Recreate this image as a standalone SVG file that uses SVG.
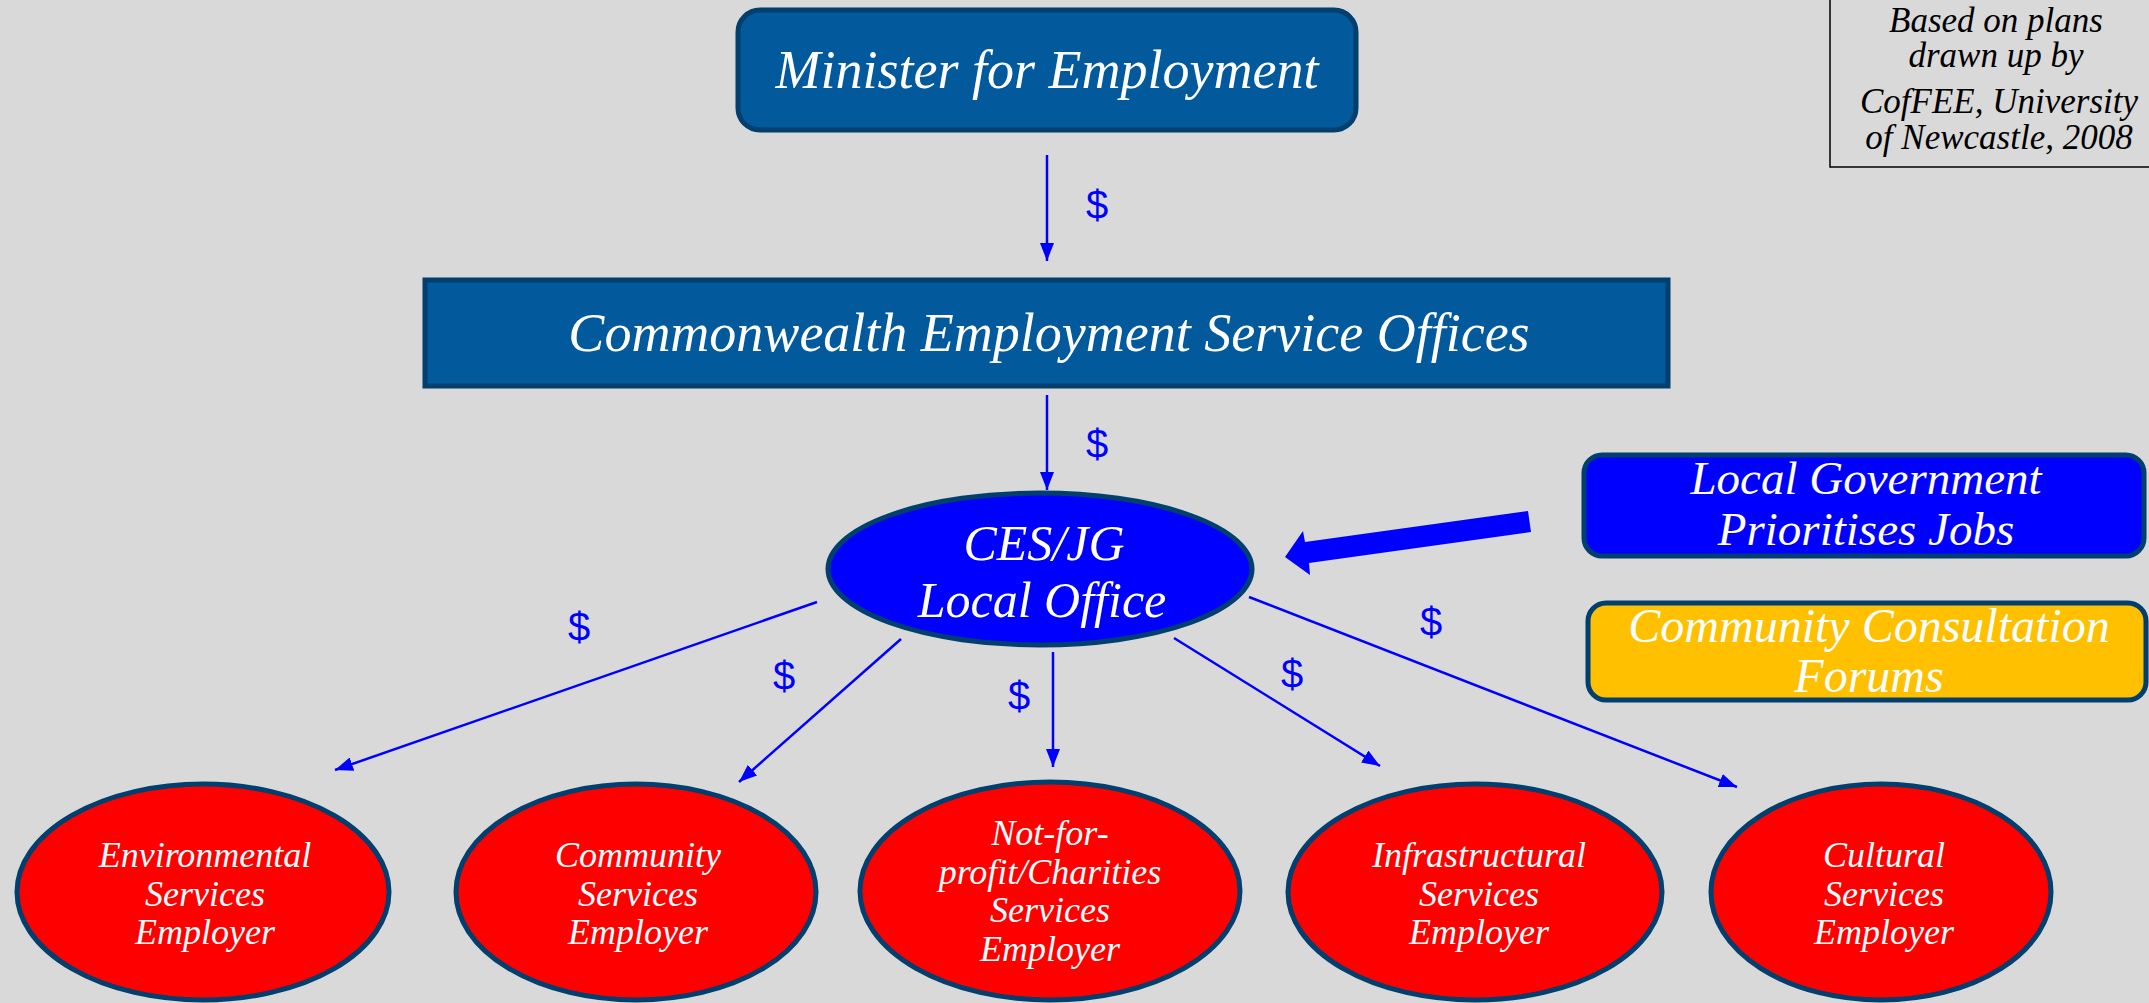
<svg xmlns="http://www.w3.org/2000/svg" width="2149" height="1003" viewBox="0 0 2149 1003">
<style>
.lbl{font-family:"Liberation Serif","Times New Roman",serif;font-style:italic;fill:#FFFFFF;text-anchor:middle}
.note{font-family:"Liberation Serif","Times New Roman",serif;font-style:italic;fill:#000000;text-anchor:middle;font-size:35px}
.box{fill:#02599C;stroke:#003F6E;stroke-width:5}
.emp{fill:#FF0000;stroke:#003F6E;stroke-width:5}
.conn{stroke:#0000FF;stroke-width:2.5;fill:none}
.dol{font-family:"Liberation Sans",Arial,sans-serif;fill:#0000FF;font-size:40px;text-anchor:middle}
</style>
<defs>
<marker id="ah" markerUnits="userSpaceOnUse" markerWidth="18" markerHeight="14" refX="18" refY="7" orient="auto">
<path d="M0,0 L18,7 L0,14 z" fill="#0000FF"/>
</marker>
</defs>
<rect x="0" y="0" width="2149" height="1003" fill="#D9D9D9"/>

<g id="note">
<rect x="1830" y="-5" width="330" height="172" fill="none" stroke="#000000" stroke-width="1.5"/>
<text class="note" x="1996" y="32">Based on plans</text>
<text class="note" x="1996" y="67">drawn up by</text>
<text class="note" x="1999" y="113">CofFEE, University</text>
<text class="note" x="1999" y="149">of Newcastle, 2008</text>
</g>

<g id="minister">
<rect class="box" x="738" y="10" width="618" height="120" rx="22" ry="22"/>
<text class="lbl" x="1047" y="88" font-size="54">Minister for Employment</text>
</g>

<g id="ces-offices">
<rect class="box" x="425" y="280" width="1243" height="106"/>
<text class="lbl" x="1049" y="351" font-size="54">Commonwealth Employment Service Offices</text>
</g>

<g id="ces-jg">
<ellipse cx="1040" cy="569" rx="212" ry="76" fill="#0000FF" stroke="#003F6E" stroke-width="5"/>
<text class="lbl" x="1044" y="560" font-size="50">CES/JG</text>
<text class="lbl" x="1042" y="617" font-size="50">Local Office</text>
</g>

<g id="local-gov">
<rect x="1584" y="455" width="560" height="101" rx="18" ry="18" fill="#0000FF" stroke="#003F6E" stroke-width="5"/>
<text class="lbl" x="1866" y="494" font-size="47">Local Government</text>
<text class="lbl" x="1866" y="545" font-size="47">Prioritises Jobs</text>
</g>

<g id="community-forums">
<rect x="1588" y="603" width="558" height="97" rx="18" ry="18" fill="#FFC000" stroke="#003F6E" stroke-width="5"/>
<text class="lbl" x="1869" y="642" font-size="48">Community Consultation</text>
<text class="lbl" x="1869" y="692" font-size="48">Forums</text>
</g>

<g id="environmental">
<ellipse class="emp" cx="203" cy="892" rx="186" ry="108"/>
<text class="lbl" x="205" y="867" font-size="36">Environmental</text>
<text class="lbl" x="205" y="906" font-size="36">Services</text>
<text class="lbl" x="205" y="944" font-size="36">Employer</text>
</g>

<g id="community">
<ellipse class="emp" cx="636" cy="892" rx="180" ry="108"/>
<text class="lbl" x="638" y="867" font-size="36">Community</text>
<text class="lbl" x="638" y="906" font-size="36">Services</text>
<text class="lbl" x="638" y="944" font-size="36">Employer</text>
</g>

<g id="nfp">
<ellipse class="emp" cx="1050" cy="891" rx="190" ry="109"/>
<text class="lbl" x="1050" y="845" font-size="36">Not-for-</text>
<text class="lbl" x="1050" y="884" font-size="36">profit/Charities</text>
<text class="lbl" x="1050" y="922" font-size="36">Services</text>
<text class="lbl" x="1050" y="961" font-size="36">Employer</text>
</g>

<g id="infrastructural">
<ellipse class="emp" cx="1475" cy="892" rx="187" ry="108"/>
<text class="lbl" x="1479" y="867" font-size="36">Infrastructural</text>
<text class="lbl" x="1479" y="906" font-size="36">Services</text>
<text class="lbl" x="1479" y="944" font-size="36">Employer</text>
</g>

<g id="cultural">
<ellipse class="emp" cx="1881" cy="892" rx="170" ry="108"/>
<text class="lbl" x="1884" y="867" font-size="36">Cultural</text>
<text class="lbl" x="1884" y="906" font-size="36">Services</text>
<text class="lbl" x="1884" y="944" font-size="36">Employer</text>
</g>

<g id="connectors">
<line class="conn" x1="1047" y1="155" x2="1047" y2="261" marker-end="url(#ah)"/>
<line class="conn" x1="1047" y1="395" x2="1047" y2="490" marker-end="url(#ah)"/>
<line class="conn" x1="817" y1="602" x2="335" y2="770" marker-end="url(#ah)"/>
<line class="conn" x1="901" y1="639" x2="739" y2="782" marker-end="url(#ah)"/>
<line class="conn" x1="1053" y1="652" x2="1053" y2="767" marker-end="url(#ah)"/>
<line class="conn" x1="1174" y1="638" x2="1380" y2="766" marker-end="url(#ah)"/>
<line class="conn" x1="1249" y1="597" x2="1737" y2="787" marker-end="url(#ah)"/>
<polygon points="1528,511 1531,532 1309,563 1310,575 1285,557 1303,531 1305,542" fill="#0000FF"/>
<text class="dol" x="1097" y="219">$</text>
<text class="dol" x="1097" y="458">$</text>
<text class="dol" x="579" y="641">$</text>
<text class="dol" x="784" y="690">$</text>
<text class="dol" x="1019" y="710">$</text>
<text class="dol" x="1292" y="688">$</text>
<text class="dol" x="1431" y="636">$</text>
</g>
</svg>
